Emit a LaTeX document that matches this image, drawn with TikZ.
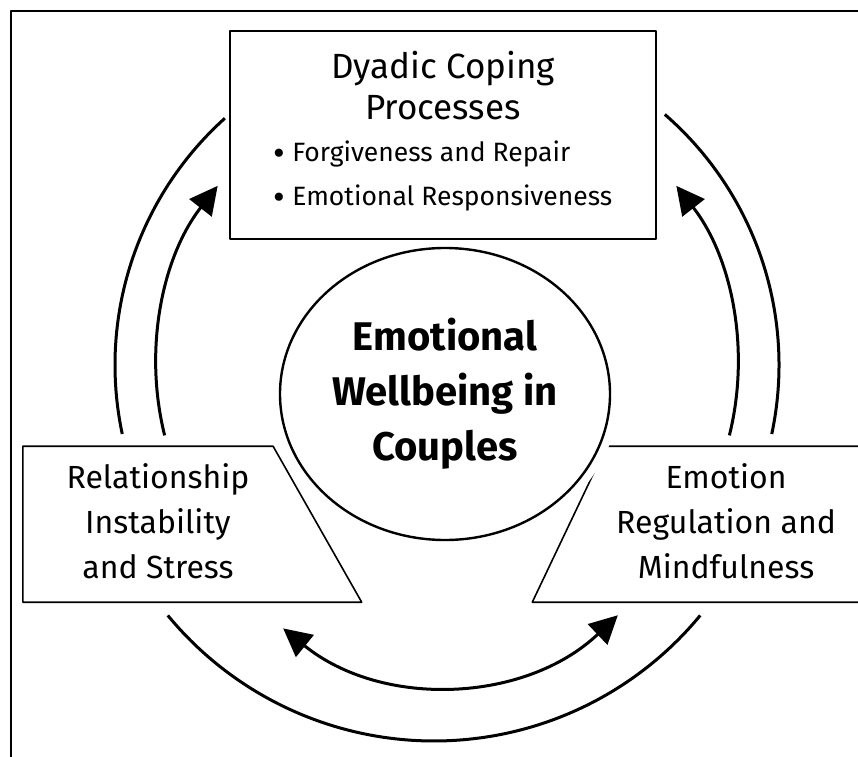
\documentclass[tikz,border=0pt]{standalone}
\usepackage{fontspec}
\setmainfont{Fira Sans}
\usetikzlibrary{arrows.meta,shapes.geometric}

\newcommand{\bigdot}{\raisebox{-3.5pt}{\fontsize{36}{43}\selectfont\textbullet}}

\begin{document}
\begin{tikzpicture}[
    x=1pt, y=1pt,
    line join=round,
    panel/.style={draw, line width=1.6pt, fill=white, align=center, inner sep=0pt},
    side/.style={panel, trapezium, trapezium stretches=true, minimum width=340pt, minimum height=156pt, font=\fontsize{32}{45}\selectfont},
    core/.style={ellipse, draw, line width=2.4pt, fill=white, minimum width=330pt, minimum height=292pt, inner sep=0pt, align=center, font=\bfseries\fontsize{40}{55}\selectfont, preaction={draw=white, line width=18pt}},
    arcline/.style={line width=3pt},
    flowarrow/.style={arcline, -{Triangle[length=28pt, width=28pt]}},
    twoway/.style={arcline, {Triangle[length=28pt, width=28pt]}-{Triangle[length=28pt, width=28pt]}}
]
    \clip (0,0) rectangle (858,756);
    \draw[line width=1.8pt] (11,-30) rectangle (900,745);

    % the four panels
    \node[side, trapezium left angle=90, trapezium right angle=62, anchor=bottom left corner] (stress) at (22,153)
        {\hspace*{20pt}\begin{tabular}{@{}c@{}}Relationship\\Instability\\and Stress\end{tabular}};
    \node[side, trapezium left angle=63, trapezium right angle=90, anchor=bottom left corner] (regulation) at (531,153)
        {\begin{tabular}{@{}c@{}}Emotion\\Regulation and\\Mindfulness\end{tabular}\hspace*{26pt}};
    \node[core] (wellbeing) at (445,362) {Emotional\\Wellbeing in\\Couples};
    \node[panel, minimum width=426pt, minimum height=208pt, font=\fontsize{35}{41}\selectfont] (coping) at (443,621) {%
        Dyadic Coping\\Processes\\[10pt]
        \fontsize{26.5}{44}\selectfont\begin{tabular}{@{}l@{}}\bigdot\ Forgiveness and Repair\\\bigdot\ Emotional Responsiveness\end{tabular}};

    % arcs round the centre
    \coordinate (hub) at ([yshift=29pt, xshift=2pt]wellbeing.center);
    \coordinate (low) at ([yshift=-2pt, xshift=-11pt]wellbeing.center);
    \coordinate (base) at ([yshift=-37pt, xshift=-2pt]wellbeing.center);

    \draw[arcline] ([shift={(192:332)}]hub) arc[start angle=192, end angle=132, radius=332];
    \draw[flowarrow] ([shift={(194:291)}]hub) arc[start angle=194, end angle=142, radius=291];
    \draw[arcline] ([shift={(-12:332)}]hub) arc[start angle=-12, end angle=49, radius=332];
    \draw[flowarrow] ([shift={(-14:291)}]hub) arc[start angle=-14, end angle=38, radius=291];
    \draw[arcline] ([shift={(219.5:345)}]low) arc[start angle=219.5, end angle=320.5, radius=345];
    \draw[twoway] ([shift={(231:254)}]base) arc[start angle=231, end angle=313.5, radius=254];
\end{tikzpicture}
\end{document}
